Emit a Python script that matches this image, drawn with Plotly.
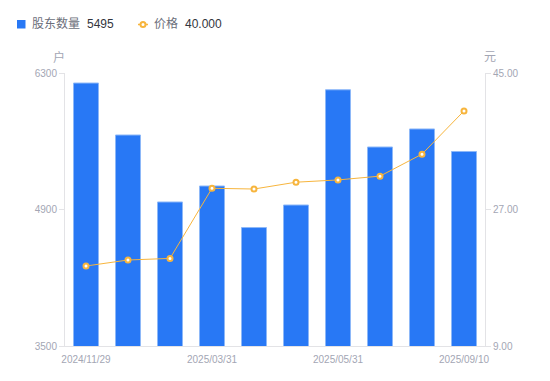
import plotly.graph_objects as go

dates = ["2024/11/29", "2024/12/31", "2025/02/28", "2025/03/31", "2025/04/30",
         "2025/05/20", "2025/05/31", "2025/06/30", "2025/08/31", "2025/09/10"]
holders = [6197, 5664, 4977, 5141, 4715, 4946, 6128, 5541, 5726, 5495]
price = [19.55, 20.34, 20.55, 29.8, 29.7, 30.6, 30.9, 31.4, 34.3, 40.0]
tick_dates = ["2024/11/29", "2025/03/31", "2025/05/31", "2025/09/10"]
left_ticks = [3500, 4900, 6300]
right_ticks = [9, 27, 45]

FONT = "Liberation Sans, Arial, Noto Sans CJK SC, sans-serif"
BLUE = "#2878F5"
ORANGE = "#F7B53D"
AXIS_TXT = "#A3A6B4"
AXIS_LINE = "#E3E3E6"

W, H = 550, 381
ML, MR, MT, MB = 65, 65, 73, 35
PW, PH = W - ML - MR, H - MT - MB


def px(x):
    return (x - ML) / PW


def py(y):
    return 1 - (y - MT) / PH


fig = go.Figure()
fig.add_trace(go.Bar(
    x=dates, y=holders, name="股东数量",
    marker=dict(color=BLUE, line=dict(color="#8DB8F8", width=1)),
    yaxis="y", showlegend=False,
))
fig.add_trace(go.Scatter(
    x=dates, y=price, name="价格", mode="lines+markers",
    line=dict(color=ORANGE, width=1),
    marker=dict(symbol="circle", size=5, color="white", line=dict(color=ORANGE, width=2)),
    yaxis="y2", showlegend=False,
))

fig.update_layout(
    width=W, height=H,
    autosize=False,
    showlegend=False,
    margin=dict(l=ML, r=MR, t=MT, b=MB, pad=0, autoexpand=False),
    paper_bgcolor="white", plot_bgcolor="white",
    font=dict(family=FONT, size=10, color=AXIS_TXT),
    bargap=0.405,
    xaxis=dict(
        type="category", categoryorder="array", categoryarray=dates,
        range=[-0.5, len(dates) - 0.5], autorange=False,
        tickmode="array", tickvals=tick_dates, ticktext=tick_dates,
        showgrid=False, showline=True, linecolor=AXIS_LINE, linewidth=1,
        ticks="", ticklabelstandoff=4, tickfont=dict(size=10, color=AXIS_TXT), zeroline=False,
        automargin=False, domain=[0, 1],
    ),
    yaxis=dict(
        range=[left_ticks[0], left_ticks[-1]], tickvals=left_ticks,
        ticktext=[str(v) for v in left_ticks],
        showgrid=False, showline=True, linecolor=AXIS_LINE, linewidth=1,
        ticks="outside", ticklen=5, tickcolor=AXIS_LINE,
        tickfont=dict(size=10, color=AXIS_TXT), zeroline=False, automargin=False,
    ),
    yaxis2=dict(
        range=[right_ticks[0], right_ticks[-1]], tickvals=right_ticks,
        ticktext=[f"{v:.2f}" for v in right_ticks],
        overlaying="y", side="right",
        showgrid=False, showline=True, linecolor=AXIS_LINE, linewidth=1,
        ticks="outside", ticklen=5, tickcolor=AXIS_LINE,
        tickfont=dict(size=10, color=AXIS_TXT), zeroline=False, automargin=False,
    ),
)

ann = []
# axis unit labels
ann.append(dict(text="户", x=px(59), y=py(57), xref="paper", yref="paper",
                showarrow=False, font=dict(size=12, color=AXIS_TXT), xanchor="center", yanchor="middle"))
ann.append(dict(text="元", x=px(490), y=py(57), xref="paper", yref="paper",
                showarrow=False, font=dict(size=12, color=AXIS_TXT), xanchor="center", yanchor="middle"))
# legend texts
ann.append(dict(text="股东数量", x=px(30), y=py(24), xref="paper", yref="paper",
                showarrow=False, font=dict(size=12, color="#6B6E7A"), xanchor="left", yanchor="middle"))
ann.append(dict(text=str(holders[-1]), x=px(85), y=py(24), xref="paper", yref="paper",
                showarrow=False, font=dict(size=12, color="#33353D"), xanchor="left", yanchor="middle"))
ann.append(dict(text="价格", x=px(152), y=py(24), xref="paper", yref="paper",
                showarrow=False, font=dict(size=12, color="#6B6E7A"), xanchor="left", yanchor="middle"))
ann.append(dict(text=f"{price[-1]:.3f}", x=px(183), y=py(24), xref="paper", yref="paper",
                showarrow=False, font=dict(size=12, color="#33353D"), xanchor="left", yanchor="middle"))
fig.update_layout(annotations=ann)

shapes = [
    dict(type="rect", xref="paper", yref="paper", x0=px(17), x1=px(25.5), y0=py(28.5), y1=py(20),
         fillcolor=BLUE, line=dict(width=0)),
    dict(type="line", xref="paper", yref="paper", x0=px(138), x1=px(148), y0=py(24.5), y1=py(24.5),
         line=dict(color=ORANGE, width=1.5)),
    dict(type="circle", xref="paper", yref="paper", x0=px(140.5), x1=px(145.5), y0=py(27), y1=py(22),
         fillcolor="white", line=dict(color=ORANGE, width=2)),
]
fig.update_layout(shapes=shapes)

fig.write_html(
    "out.html",
    config={"displayModeBar": False},
    post_script="document.body.style.margin='0';document.body.style.padding='0';",
)
